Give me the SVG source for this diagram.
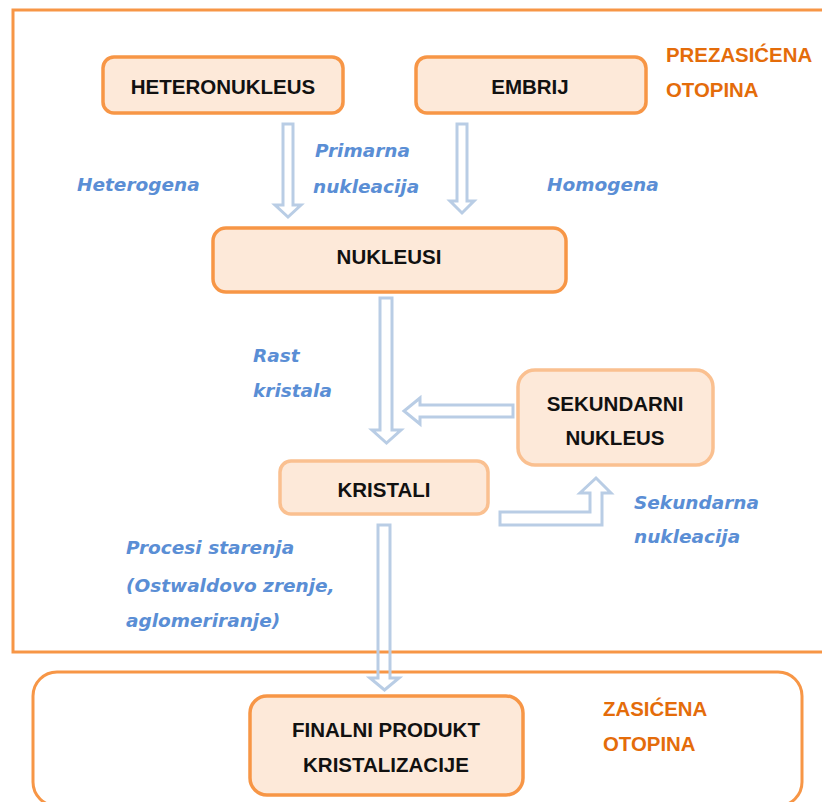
<svg xmlns="http://www.w3.org/2000/svg" width="822" height="802" viewBox="0 0 822 802">
<style>
.frame{fill:none;stroke:#F79646;stroke-width:3}
.node{fill:#FDE9D9;stroke:#F79646;stroke-width:3.5}
.node2{fill:#FDE9D9;stroke:#FAC090;stroke-width:3.5}
.nt{font-family:"Liberation Sans",Arial,sans-serif;font-weight:bold;font-size:20.5px;fill:#111;text-anchor:middle}
.ot{font-family:"Liberation Sans",Arial,sans-serif;font-weight:bold;font-size:20.4px;fill:#E46C0A}
.lbl{font-family:"DejaVu Sans",Verdana,sans-serif;font-weight:bold;font-style:italic;font-size:18.5px;fill:#5A8ED5}
.arr{fill:none;stroke:#B9CDE5;stroke-width:3;stroke-linejoin:miter}
</style>
<rect width="822" height="802" fill="#fff"/>
<g id="frames">
<rect class="frame" x="13" y="10" width="830" height="642"/>
<rect class="frame" x="33" y="672" width="769" height="134" rx="24"/>
<text class="ot" x="666" y="62">PREZASIĆENA</text>
<text class="ot" x="666" y="97">OTOPINA</text>
<text class="ot" x="603" y="716">ZASIĆENA</text>
<text class="ot" x="603" y="751">OTOPINA</text>
</g>
<g id="connectors">
<polygon class="arr" points="283,124 293,124 293,205 301,205 288,217 275,205 283,205"/>
<polygon class="arr" points="457,124 467,124 467,201 474,201 462,213 450,201 457,201"/>
<polygon class="arr" points="380,298 392,298 392,430 401,430 386.5,443 372,430 380,430"/>
<polygon class="arr" points="513,405 513,417 420,417 420,424 404,411 420,398 420,405"/>
<polygon class="arr" points="500,512 590,512 590,493 580,493 596,478 611,493 602,493 602,525 500,525"/>
<polygon class="arr" points="378,525 390,525 390,678 399,678 384.5,690 370,678 378,678"/>
<text class="lbl" x="77" y="191">Heterogena</text>
<text class="lbl" x="315" y="157">Primarna</text>
<text class="lbl" x="313" y="193">nukleacija</text>
<text class="lbl" x="547" y="191">Homogena</text>
<text class="lbl" x="253" y="362">Rast</text>
<text class="lbl" x="253" y="397">kristala</text>
<text class="lbl" x="634" y="509">Sekundarna</text>
<text class="lbl" x="634" y="543">nukleacija</text>
<text class="lbl" x="126" y="554">Procesi starenja</text>
<text class="lbl" x="126" y="592">(Ostwaldovo zrenje,</text>
<text class="lbl" x="126" y="627">aglomeriranje)</text>
</g>
<g id="heteronukleus">
<rect class="node" x="103" y="57" width="240" height="56" rx="11"/>
<text class="nt" x="223" y="94">HETERONUKLEUS</text>
</g>
<g id="embrij">
<rect class="node" x="416" y="57" width="230" height="56" rx="11"/>
<text class="nt" x="530" y="94">EMBRIJ</text>
</g>
<g id="nukleusi">
<rect class="node" x="213" y="228" width="353" height="64" rx="13"/>
<text class="nt" x="389" y="264">NUKLEUSI</text>
</g>
<g id="sekundarni">
<rect class="node2" x="518" y="370" width="195" height="95" rx="17"/>
<text class="nt" x="615" y="411">SEKUNDARNI</text>
<text class="nt" x="615" y="445">NUKLEUS</text>
</g>
<g id="kristali">
<rect class="node2" x="280" y="461" width="208" height="53" rx="11"/>
<text class="nt" x="384" y="497">KRISTALI</text>
</g>
<g id="finalni">
<rect class="node" x="250" y="696" width="273" height="99" rx="17"/>
<text class="nt" x="386" y="737">FINALNI PRODUKT</text>
<text class="nt" x="386" y="772">KRISTALIZACIJE</text>
</g>
</svg>
